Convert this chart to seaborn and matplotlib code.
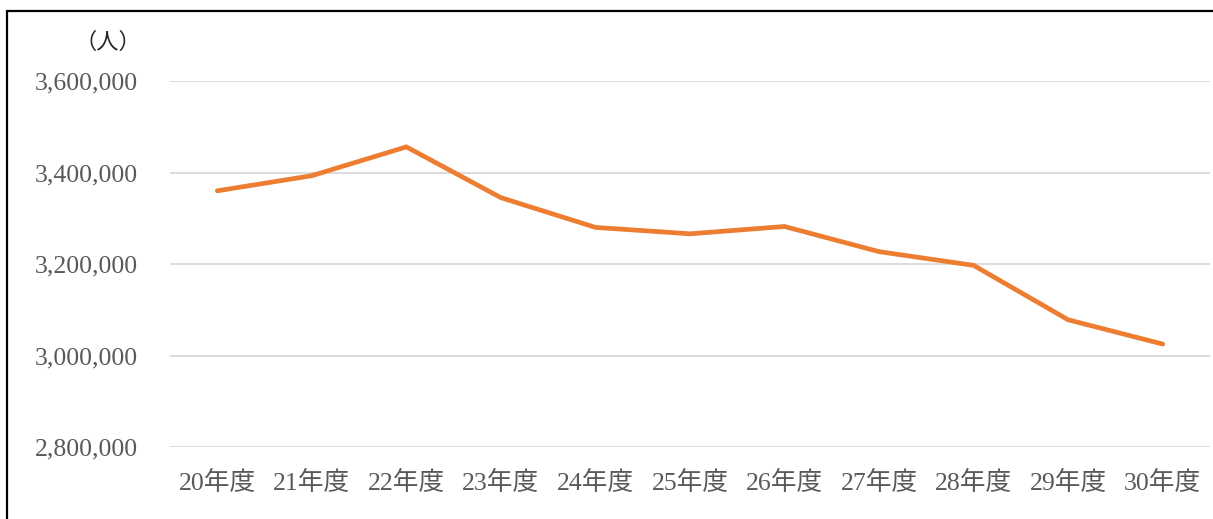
import matplotlib
matplotlib.use("Agg")
import matplotlib.pyplot as plt
import seaborn as sns
import pandas as pd
from matplotlib.patches import Rectangle
from matplotlib.ticker import FuncFormatter

# Données
years = ["20年度", "21年度", "22年度", "23年度", "24年度", "25年度",
         "26年度", "27年度", "28年度", "29年度", "30年度"]
people = [3360000, 3393000, 3456000, 3345000, 3280000, 3266000,
          3282000, 3227000, 3197000, 3078000, 3025000]
y_ticks = [2800000, 3000000, 3200000, 3400000, 3600000]

df = pd.DataFrame({"year": years, "people": people})

sns.set_style("white")
fonts = ["Liberation Serif", "Noto Sans CJK JP", "DejaVu Sans"]
plt.rcParams["font.family"] = fonts

fig = plt.figure(figsize=(12.13, 5.19), dpi=100)
ax = fig.add_axes([170 / 1213, 1 - 447 / 519, 1040 / 1213, 366 / 519])

sns.lineplot(data=df, x="year", y="people", ax=ax, color="#ED7D31",
             linewidth=3.4, sort=False, solid_capstyle="round",
             solid_joinstyle="miter")

ax.set_xlim(-0.5, len(years) - 0.5)
ax.set_ylim(y_ticks[0], y_ticks[-1])
ax.set_yticks(y_ticks)
ax.yaxis.set_major_formatter(FuncFormatter(lambda v, p: f"{int(v):,}"))
ax.grid(axis="y", color="#D9D9D9", linewidth=1.3)
ax.set_axisbelow(True)
for s in ax.spines.values():
    s.set_visible(False)
ax.set_xlabel("")
ax.set_ylabel("")
ax.tick_params(axis="y", length=0, pad=23, labelsize=18.5, labelcolor="#595959")
ax.tick_params(axis="x", length=0, pad=17, labelsize=18.5, labelcolor="#595959")

fig.text(108 / 1213, 1 - 42 / 519, "（人）", ha="center", va="center",
         fontsize=16, color="#262626", family=["Noto Sans CJK JP"])

# cadre du graphique (coupé à droite et en bas)
fig.add_artist(Rectangle((7 / 1213, -0.2), 1.2, 1.2 - 11 / 519 + 0.0,
                         transform=fig.transFigure, fill=False,
                         edgecolor="black", linewidth=1.6, clip_on=False))

fig.savefig("out.png", dpi=100)
